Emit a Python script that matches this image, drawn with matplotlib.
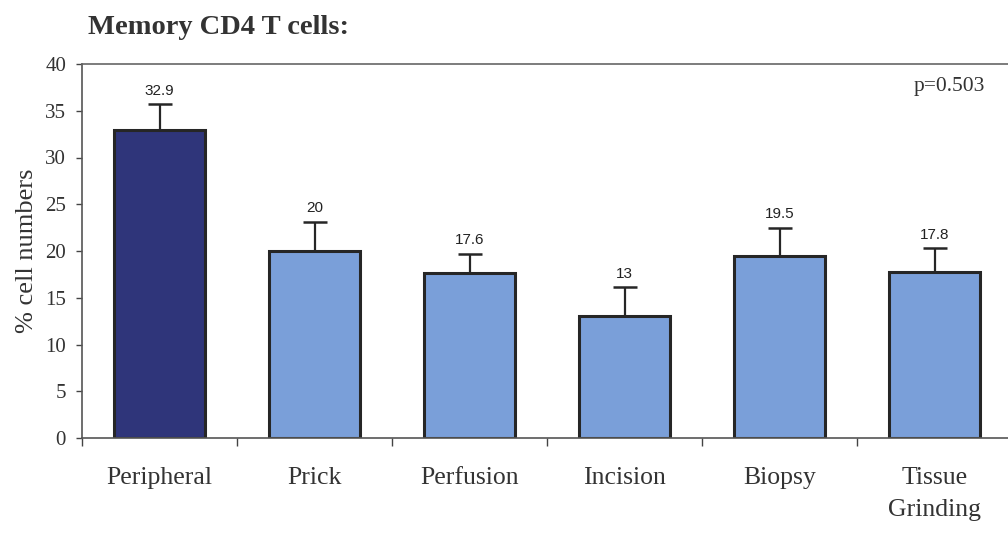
#!/usr/bin/env python3

import matplotlib
matplotlib.use("Agg")
import matplotlib.pyplot as plt
import numpy as np

categories = ["Peripheral", "Prick", "Perfusion", "Incision", "Biopsy", "Tissue\nGrinding"]
means = [32.9, 20.0, 17.6, 13.0, 19.5, 17.8]
errors = [2.8, 3.1, 2.1, 3.1, 3.0, 2.5]
value_labels = ["32.9", "20", "17.6", "13", "19.5", "17.8"]
bar_colors = ["#2f357a", "#7a9fd9", "#7a9fd9", "#7a9fd9", "#7a9fd9", "#7a9fd9"]

serif = "Liberation Serif"
sans = "Liberation Sans"

fig = plt.figure(figsize=(10.08, 5.34), dpi=100)
ax = fig.add_axes([82 / 1008, 96 / 534, 930 / 1008, 374 / 534])

x = np.arange(len(categories))
ax.bar(x, means, width=0.59, color=bar_colors, edgecolor="#262626", linewidth=2.2, zorder=2)
ax.errorbar(x, means, yerr=[np.zeros(len(means)), errors], fmt="none",
            ecolor="#262626", elinewidth=1.6, capsize=8.5, capthick=1.8, zorder=1)

for xi, m, e, lab in zip(x, means, errors, value_labels):
    ax.text(xi, m + e + 0.7, lab, ha="center", va="bottom",
            fontsize=11, family=sans, color="#222222")

ax.set_xlim(-0.5, 5.5)
ax.set_ylim(0, 40)
ax.set_yticks(range(0, 41, 5))
ax.set_yticklabels([str(v) for v in range(0, 41, 5)], family=serif, fontsize=15, color="#333333")

# category labels sit between the boundary ticks
ax.set_xticks(np.arange(-0.5, 5.6, 1.0))
ax.set_xticklabels([])
ax.set_xticks(x, minor=True)
ax.set_xticklabels(categories, minor=True, family=serif, fontsize=18.5, color="#333333",
                   va="top", linespacing=1.55)
ax.tick_params(axis="x", which="minor", length=0, pad=21)
ax.tick_params(axis="x", which="major", length=6, width=1, color="#444444", direction="out")
ax.tick_params(axis="y", length=4.5, width=1, color="#444444", direction="out", pad=7)

for side in ["left", "bottom", "top", "right"]:
    ax.spines[side].set_color("#555555")
    ax.spines[side].set_linewidth(1.2)
ax.spines["top"].set_color("#666666")

ax.set_ylabel("% cell numbers", family=serif, fontsize=19, color="#333333", labelpad=5)

fig.text(88 / 1008, 1 - 28 / 534, "Memory CD4 T cells:", family=serif, fontsize=20.5,
         fontweight="bold", color="#333333", va="center", ha="left")
ax.text(0.971, 0.94, "p=0.503", transform=ax.transAxes, family=serif, fontsize=15.5,
        color="#333333", ha="right", va="center")

fig.savefig("out.png", dpi=100)
